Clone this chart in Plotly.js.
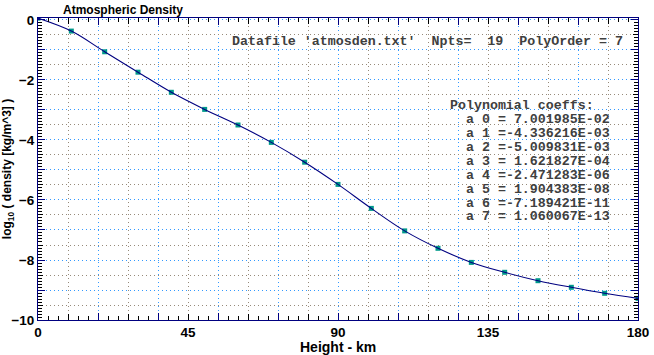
<!DOCTYPE html>
<html>
<head>
<meta charset="utf-8">
<script src="https://cdn.plot.ly/plotly-3.0.1.min.js"></script>
<style>html,body{margin:0;padding:0;background:#fff;}#chart{width:654px;height:355px;}</style>
</head>
<body>
<div id="chart"></div>
<script>
const heightKm = [0,10,20,30,40,50,60,70,80,90,100,110,120,130,140,150,160,170,180];
const logDensity = [0.06,-0.37,-1.06,-1.74,-2.41,-2.98,-3.50,-4.08,-4.74,-5.48,-6.28,-7.03,-7.61,-8.08,-8.41,-8.69,-8.91,-9.11,-9.28];
const xTickVals = [0,45,90,135,180];
const yTickVals = [0,-2,-4,-6,-8,-10];
const titleText = 'Atmospheric Density';
const xTitle = 'Height - km';
const yTitle = 'log<sub>10</sub> ( density [kg/m^3] )';
const infoLine = "Datafile&nbsp;'atmosden.txt'&nbsp;&nbsp;Npts=&nbsp;&nbsp;19&nbsp;&nbsp;PolyOrder&nbsp;=&nbsp;7";
const coeffHeader = 'Polynomial coeffs:';
const coeffNames = ['a 0','a 1','a 2','a 3','a 4','a 5','a 6','a 7'];
const coeffValues = [' 7.001985E-02','-4.336216E-03','-5.009831E-03',' 1.621827E-04','-2.471283E-06',' 1.904383E-08','-7.189421E-11',' 1.060067E-13'];

const navy = '#000080';
const blueGrid = '#3399ff';
const grayGrid = '#968a7a';
const narrow = 'Liberation Sans Narrow, Arial Narrow, Liberation Sans, sans-serif';
const sans = {family: narrow, size: 13.5, color: '#000', weight: 'bold'};
const mono = {family: 'Liberation Mono, Courier New, monospace', size: 13.3, color: '#404040', weight: 'bold'};

const H = 355, T = 18, B = 35;
function paperY(px) { return (H - B - px) / (H - T - B); }

const traces = [
  {x: heightKm, y: logDensity, xaxis: 'x3', yaxis: 'y3', mode: 'markers', type: 'scatter', marker: {opacity: 0, size: 1}, hoverinfo: 'skip'},
  {x: heightKm, y: logDensity, xaxis: 'x2', yaxis: 'y2', mode: 'markers', type: 'scatter', marker: {opacity: 0, size: 1}, hoverinfo: 'skip'},
  {x: heightKm, y: logDensity, mode: 'markers', type: 'scatter',
   marker: {symbol: 'square', size: 5, color: '#00998a', line: {width: 0}}, hoverinfo: 'skip'},
  {x: heightKm, y: logDensity, mode: 'lines', type: 'scatter', line: {color: navy, width: 1.1, shape: 'spline', smoothing: 1}, hoverinfo: 'skip'}
];

const annotations = [];
annotations.push({xref: 'paper', yref: 'paper', x: 0.5, y: paperY(347), xanchor: 'center', yanchor: 'middle', text: xTitle, showarrow: false,
  font: {family: narrow, size: 14, color: '#000', weight: 'bold'}});
annotations.push({xref: 'paper', yref: 'paper', x: (230-38)/600, y: paperY(42), xanchor: 'left', yanchor: 'middle', text: infoLine, showarrow: false, font: mono});
annotations.push({xref: 'paper', yref: 'paper', x: (448-38)/600, y: paperY(105), xanchor: 'left', yanchor: 'middle', text: coeffHeader, showarrow: false, font: mono});
coeffNames.forEach((n, i) => {
  const v = coeffValues[i].replace(/ /g, '&nbsp;');
  annotations.push({xref: 'paper', yref: 'paper', x: (464-38)/600, y: paperY(119 + 14*i), xanchor: 'left', yanchor: 'middle',
    text: n.replace(/ /g,'&nbsp;') + '&nbsp;=' + v, showarrow: false, font: mono});
});

const common = {zeroline: false, showticklabels: false, showline: false, mirror: 'allticks', gridwidth: 1, griddash: '1px,3px', showgrid: true};

const layout = {
  width: 654, height: 355,
  margin: {l: 38, r: 16, t: T, b: B, pad: 0},
  paper_bgcolor: '#fff', plot_bgcolor: '#fff',
  showlegend: false,
  title: {text: titleText, font: {family: 'Liberation Sans, Arial, sans-serif', size: 12, color: '#000', weight: 'bold'},
    xref: 'container', yref: 'container', x: 63/654, xanchor: 'left', y: 1 - 10/355, yanchor: 'middle'},
  xaxis: {range: [0, 180], tickmode: 'array', tickvals: xTickVals, ticks: '', showgrid: false, zeroline: false,
    showline: true, linecolor: navy, linewidth: 1, mirror: true, tickfont: sans},
  xaxis2: Object.assign({}, common, {overlaying: 'x', anchor: 'y2', range: [0, 180], tickmode: 'linear', tick0: 0, dtick: 18,
    ticks: 'inside', ticklen: 7, tickcolor: navy, tickwidth: 1, gridcolor: blueGrid,
    minor: {tickmode: 'linear', tick0: 0, dtick: 3, ticks: 'inside', ticklen: 4, tickcolor: '#000', showgrid: false}}),
  xaxis3: Object.assign({}, common, {overlaying: 'x', anchor: 'y3', range: [0, 180], tickmode: 'linear', tick0: 9, dtick: 18,
    ticks: 'inside', ticklen: 6, tickcolor: '#000', gridcolor: grayGrid}),
  yaxis: {range: [-10, 0.066], tickmode: 'array', tickvals: yTickVals, ticks: '', showgrid: false, zeroline: false,
    showline: true, linecolor: navy, linewidth: 1, mirror: true, tickfont: sans,
    title: {text: yTitle, font: {family: narrow, size: 12, color: '#000', weight: 'bold'}, standoff: 2}},
  yaxis2: Object.assign({}, common, {overlaying: 'y', anchor: 'x2', range: [-10, 0.066], tickmode: 'linear', tick0: 0, dtick: 1,
    ticks: 'inside', ticklen: 7, tickcolor: navy, tickwidth: 1, gridcolor: blueGrid,
    minor: {tickmode: 'linear', tick0: 0, dtick: 0.1, ticks: 'inside', ticklen: 4, tickcolor: '#000', showgrid: false}}),
  yaxis3: Object.assign({}, common, {overlaying: 'y', anchor: 'x3', range: [-10, 0.066], tickmode: 'linear', tick0: 0.5, dtick: 1,
    ticks: 'inside', ticklen: 5, tickcolor: '#000', gridcolor: grayGrid}),
  annotations: annotations
};

Plotly.newPlot('chart', traces, layout, {staticPlot: true, displayModeBar: false});
</script>
</body>
</html>
